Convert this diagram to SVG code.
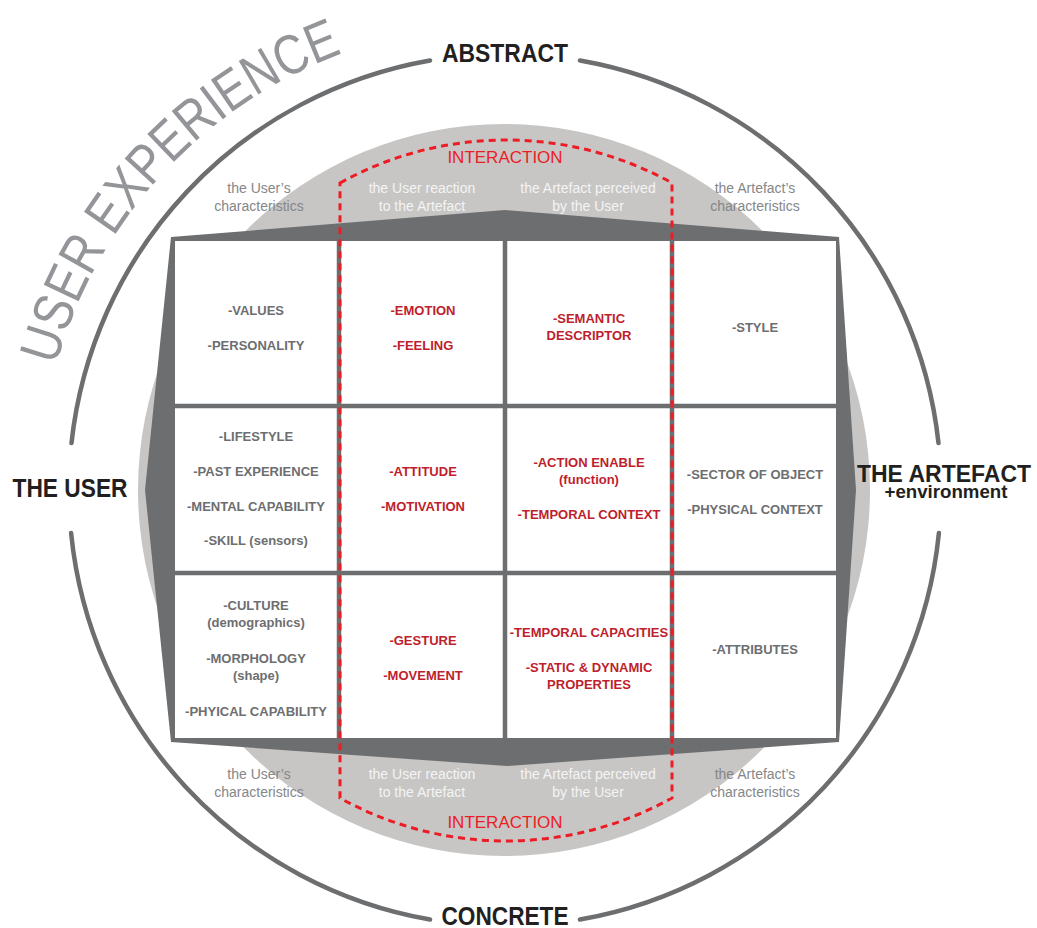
<svg xmlns="http://www.w3.org/2000/svg" xmlns:xlink="http://www.w3.org/1999/xlink" width="1037" height="928" viewBox="0 0 1037 928">
<style>
text{font-family:"Liberation Sans",Arial,sans-serif;text-anchor:middle}
.g{font-weight:bold;font-size:13px;fill:#6d6e70}
.r{font-weight:bold;font-size:13px;fill:#be1e2d}
.s{font-size:14px;fill:#858789}
.w{font-size:14px;fill:#f4f4f4}
.big{font-weight:bold;font-size:25.5px;fill:#231f20}
.ix{font-size:17px;fill:#ed1c24}
.ring{fill:none;stroke:#6d6e70;stroke-width:4.5;stroke-linecap:round}
.grid{stroke:#6d6e70;stroke-width:4.5;fill:none}
.dash{fill:none;stroke:#ed1c24;stroke-width:3;stroke-dasharray:7 5}
</style>
<defs>
<path id="uxarc" d="M55.95,365.47 A466,466 0 0 1 345.62,52.1"/>
</defs>
<rect width="1037" height="928" fill="#ffffff"/>
<g id="background">
<circle cx="504" cy="490" r="366" fill="#c7c6c5"/>
<path class="ring" d="M580,60.5 A436,436 0 0 1 938.5,443"/>
<path class="ring" d="M938.9,533 A436,436 0 0 1 580,919.5"/>
<path class="ring" d="M430,919.5 A436,436 0 0 1 71.1,533"/>
<path class="ring" d="M71.5,443 A436,436 0 0 1 430,60.5"/>
<polygon points="171,237 505,210 839,237 856,490 839,742 507,766 171,742 145,490" fill="#6d6e70"/>
<rect x="175" y="241" width="661" height="497" fill="#ffffff"/>
</g>
<g id="title">
<text font-size="56" fill="#939598" style="text-anchor:start"><textPath xlink:href="#uxarc" href="#uxarc" textLength="440" lengthAdjust="spacingAndGlyphs">USER EXPERIENCE</textPath></text>
</g>
<g id="axes">
<text class="big" x="505" y="62" textLength="126" lengthAdjust="spacingAndGlyphs">ABSTRACT</text>
<text class="big" x="505" y="925" textLength="127" lengthAdjust="spacingAndGlyphs">CONCRETE</text>
<text class="big" x="70" y="497" textLength="115" lengthAdjust="spacingAndGlyphs">THE USER</text>
<text x="944" y="482" font-weight="bold" font-size="23" fill="#231f20">THE ARTEFACT</text>
<text x="946" y="498" font-weight="bold" font-size="18.5" fill="#231f20" textLength="123" lengthAdjust="spacingAndGlyphs">+environment</text>
</g>
<g id="connectors">
<line class="grid" x1="339" y1="239" x2="339" y2="740"/>
<line class="grid" x1="505" y1="239" x2="505" y2="740"/>
<line class="grid" x1="672" y1="239" x2="672" y2="740"/>
<line class="grid" x1="173" y1="406" x2="837" y2="406"/>
<line class="grid" x1="173" y1="573" x2="837" y2="573"/>
<path class="dash" d="M340,183 A342,342 0 0 1 672,183 L672,798 A342,342 0 0 1 340,798 Z"/>
</g>
<g id="labels-top">
<text class="s" x="259" y="193">the User’s</text>
<text class="s" x="259" y="211">characteristics</text>
<text class="w" x="422" y="193">the User reaction</text>
<text class="w" x="422" y="211">to the Artefact</text>
<text class="w" x="588" y="193">the Artefact perceived</text>
<text class="w" x="588" y="211">by the User</text>
<text class="s" x="755" y="193">the Artefact’s</text>
<text class="s" x="755" y="211">characteristics</text>
<text class="ix" x="505" y="163">INTERACTION</text>
</g>
<g id="labels-bottom">
<text class="s" x="259" y="779">the User’s</text>
<text class="s" x="259" y="797">characteristics</text>
<text class="w" x="422" y="779">the User reaction</text>
<text class="w" x="422" y="797">to the Artefact</text>
<text class="w" x="588" y="779">the Artefact perceived</text>
<text class="w" x="588" y="797">by the User</text>
<text class="s" x="755" y="779">the Artefact’s</text>
<text class="s" x="755" y="797">characteristics</text>
<text class="ix" x="505" y="828">INTERACTION</text>
</g>
<g id="cell-1-1"><text class="g" x="256" y="315">-VALUES</text><text class="g" x="256" y="350">-PERSONALITY</text></g>
<g id="cell-1-2"><text class="r" x="423" y="315">-EMOTION</text><text class="r" x="423" y="350">-FEELING</text></g>
<g id="cell-1-3"><text class="r" x="589" y="323">-SEMANTIC</text><text class="r" x="589" y="340">DESCRIPTOR</text></g>
<g id="cell-1-4"><text class="g" x="755" y="332">-STYLE</text></g>
<g id="cell-2-1"><text class="g" x="256" y="441">-LIFESTYLE</text><text class="g" x="256" y="476">-PAST EXPERIENCE</text><text class="g" x="256" y="511">-MENTAL CAPABILITY</text><text class="g" x="256" y="545">-SKILL (sensors)</text></g>
<g id="cell-2-2"><text class="r" x="423" y="476">-ATTITUDE</text><text class="r" x="423" y="511">-MOTIVATION</text></g>
<g id="cell-2-3"><text class="r" x="589" y="467">-ACTION ENABLE</text><text class="r" x="589" y="484">(function)</text><text class="r" x="589" y="519">-TEMPORAL CONTEXT</text></g>
<g id="cell-2-4"><text class="g" x="755" y="479">-SECTOR OF OBJECT</text><text class="g" x="755" y="514">-PHYSICAL CONTEXT</text></g>
<g id="cell-3-1"><text class="g" x="256" y="610">-CULTURE</text><text class="g" x="256" y="627">(demographics)</text><text class="g" x="256" y="663">-MORPHOLOGY</text><text class="g" x="256" y="680">(shape)</text><text class="g" x="256" y="716">-PHYICAL CAPABILITY</text></g>
<g id="cell-3-2"><text class="r" x="423" y="645">-GESTURE</text><text class="r" x="423" y="680">-MOVEMENT</text></g>
<g id="cell-3-3"><text class="r" x="589" y="637">-TEMPORAL CAPACITIES</text><text class="r" x="589" y="672">-STATIC &amp; DYNAMIC</text><text class="r" x="589" y="689">PROPERTIES</text></g>
<g id="cell-3-4"><text class="g" x="755" y="654">-ATTRIBUTES</text></g>
</svg>
